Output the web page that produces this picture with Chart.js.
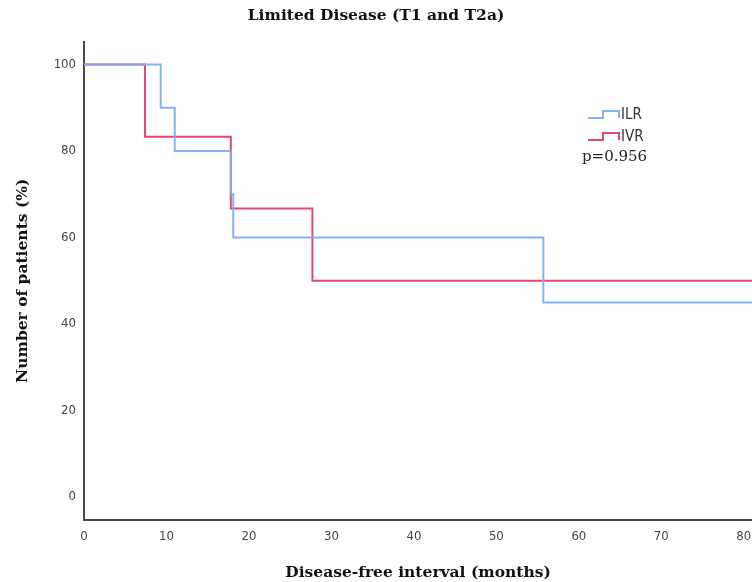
<!DOCTYPE html>
<html>
<head>
<meta charset="utf-8">
<script src="https://cdn.jsdelivr.net/npm/chart.js@4.4.0/dist/chart.umd.min.js"></script>
<style>
  html, body { margin: 0; padding: 0; background: #fff; }
  #wrap { width: 752px; height: 582px; }
</style>
</head>
<body>
<div id="wrap"><canvas id="myChart" width="752" height="582"></canvas></div>
<script>
// Kaplan-Meier steps (months, % patients)
var ilrTimes = [0, 9.3, 11.0, 17.8, 18.1, 55.7, 81];
var ilrSurv  = [100, 90, 80, 70, 60, 45, 45];
var ivrTimes = [0, 7.4, 17.8, 27.7, 81];
var ivrSurv  = [100, 83.3, 66.7, 50, 50];

var xTicks = [0, 10, 20, 30, 40, 50, 60, 70, 80];
var yTicks = [0, 20, 40, 60, 80, 100];
var seriesNames = ['ILR', 'IVR'];
var pValue = 'p=0.956';

var blue = 'rgba(125,175,242,0.95)';
var red = 'rgba(228,50,95,0.9)';

function toPoints(xs, ys) {
  var pts = [];
  for (var i = 0; i < xs.length; i++) pts.push({ x: xs[i], y: ys[i] });
  return pts;
}

// legend with little step icons like the original
var stepLegend = {
  id: 'stepLegend',
  afterDraw: function(chart) {
    var ctx = chart.ctx;
    var x0 = 588, y0 = 118;
    var cols = [blue, red];
    ctx.save();
    for (var i = 0; i < seriesNames.length; i++) {
      var y = y0 + i * 22;
      ctx.strokeStyle = cols[i];
      ctx.lineWidth = 2;
      ctx.beginPath();
      ctx.moveTo(x0, y);
      ctx.lineTo(x0 + 15, y);
      ctx.lineTo(x0 + 15, y - 7);
      ctx.lineTo(x0 + 31, y - 7);
      ctx.lineTo(x0 + 31, y);
      ctx.stroke();
      ctx.fillStyle = '#333';
      ctx.font = '15px "Liberation Sans Narrow", "DejaVu Sans Condensed", sans-serif';
      ctx.textBaseline = 'middle';
      ctx.fillText(seriesNames[i], x0 + 33, y - 3);
    }
    ctx.font = '15px "DejaVu Serif", serif';
    ctx.fillStyle = '#222';
    ctx.fillText(pValue, 582, 157);
    ctx.restore();
  }
};

window.addEventListener('load', setup);

function setup() {
  var ctx = document.getElementById('myChart').getContext('2d');
  var tickFont = { family: '"Liberation Sans Narrow", "DejaVu Sans Condensed", sans-serif', size: 13 };
  var titleFont = { family: '"DejaVu Serif", serif', size: 15.5, weight: 'bold' };

  new Chart(ctx, {
    type: 'line',
    data: {
      datasets: [
        {
          label: 'ILR',
          data: toPoints(ilrTimes, ilrSurv),
          stepped: true,
          borderColor: blue,
          borderWidth: 2,
          pointRadius: 0,
          fill: false
        },
        {
          label: 'IVR',
          data: toPoints(ivrTimes, ivrSurv),
          stepped: true,
          borderColor: red,
          borderWidth: 2,
          pointRadius: 0,
          fill: false
        }
      ]
    },
    options: {
      responsive: false,
      animation: false,
      layout: { padding: { left: 0, right: 0, top: 0, bottom: 0 } },
      plugins: {
        legend: { display: false },
        tooltip: { enabled: false },
        title: {
          display: true,
          text: 'Limited Disease (T1 and T2a)',
          color: '#111',
          font: titleFont,
          padding: { top: 7, bottom: 16 }
        }
      },
      scales: {
        x: {
          type: 'linear',
          min: 0,
          max: 81,
          afterBuildTicks: function(scale) {
            scale.ticks = xTicks.map(function(v) { return { value: v }; });
          },
          afterFit: function(scale) {
            scale.height = 62;
            scale.paddingRight = 0;
            scale.paddingLeft = 0;
          },
          grid: { display: false, drawTicks: false },
          border: { display: true, color: '#4a4a4a', width: 2 },
          ticks: { color: '#444', font: tickFont, padding: 9, maxRotation: 0 },
          title: {
            display: true,
            text: 'Disease-free interval (months)',
            color: '#111',
            font: titleFont,
            padding: { top: 0, bottom: 0 }
          }
        },
        y: {
          type: 'linear',
          min: -5.3,
          max: 105.3,
          afterBuildTicks: function(scale) {
            scale.ticks = yTicks.map(function(v) { return { value: v }; });
          },
          afterFit: function(scale) { scale.width = 84; },
          grid: { display: false, drawTicks: false },
          border: { display: true, color: '#4a4a4a', width: 2 },
          ticks: { color: '#444', font: tickFont, padding: 8 },
          title: {
            display: true,
            text: 'Number of patients (%)',
            color: '#111',
            font: titleFont,
            padding: { top: 14, bottom: 0 }
          }
        }
      }
    },
    plugins: [stepLegend]
  });
}
</script>
</body>
</html>
